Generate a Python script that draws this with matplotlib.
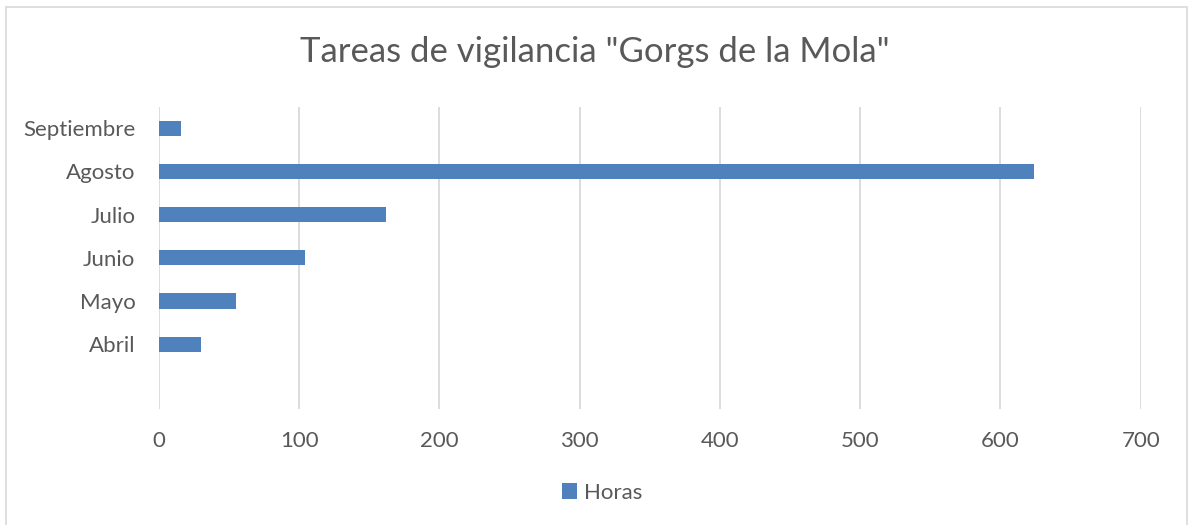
import matplotlib
matplotlib.use('Agg')
import matplotlib.pyplot as plt
from matplotlib.patches import Rectangle

# data (bottom slot is an empty category)
months = ['', 'Abril', 'Mayo', 'Junio', 'Julio', 'Agosto', 'Septiembre']
horas = [0, 30, 55, 104, 162, 624, 16]
xticks = [0, 100, 200, 300, 400, 500, 600, 700]

bar_color = '#4F81BD'
text_color = '#595959'
grid_color = '#D9D9D9'

plt.rcParams['font.family'] = ['Lato', 'DejaVu Sans']

fig = plt.figure(figsize=(11.9, 5.25), dpi=100)
ax = fig.add_axes([159 / 1190, 1 - 409 / 525, (1140.7 - 159) / 1190, (409 - 106.7) / 525])

ypos = list(range(len(months)))
ax.barh(ypos[1:], horas[1:], height=0.35, color=bar_color, label='Horas', zorder=3)

ax.set_xlim(0, 700)
ax.set_ylim(-0.5, len(months) - 0.5)
ax.set_xticks(xticks)
ax.set_yticks(ypos)
ax.set_yticklabels(months)
ax.tick_params(axis='both', length=0, labelsize=16, colors=text_color)
ax.tick_params(axis='x', pad=16)
ax.tick_params(axis='y', pad=17)
ax.grid(axis='x', color=grid_color, linewidth=1.3, zorder=0)
for s in ax.spines.values():
    s.set_visible(False)

fig.text(0.5, 1 - 52 / 525, 'Tareas de vigilancia "Gorgs de la Mola"', ha='center', va='center',
         fontsize=25, color=text_color)

leg = fig.legend(loc='center', bbox_to_anchor=(0.5 + 7 / 1190, 1 - 493 / 525), frameon=False,
                 fontsize=16, labelcolor=text_color, handlelength=0.7, handleheight=0.7,
                 handletextpad=0.3)

# outer chart border
fig.patches.append(Rectangle((6 / 1190, -0.01), 1181 / 1190, 1 - 7 / 525 + 0.01, transform=fig.transFigure,
                             fill=False, edgecolor=grid_color, linewidth=1.2))

fig.savefig('out.png', dpi=100)
